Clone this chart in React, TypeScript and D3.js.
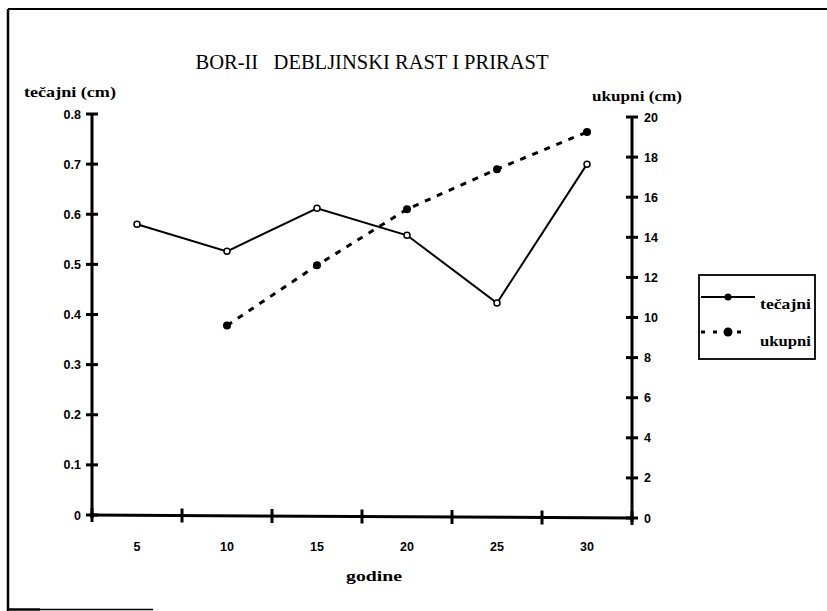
import React from "react";
import * as d3 from "d3";

const years = ["5", "10", "15", "20", "25", "30"];
const tecajni = [0.58, 0.526, 0.612, 0.558, 0.423, 0.70];
const ukupniYears = ["10", "15", "20", "25", "30"];
const ukupni = [9.6, 12.6, 15.4, 17.4, 19.25];
const leftTicks = [0, 0.1, 0.2, 0.3, 0.4, 0.5, 0.6, 0.7, 0.8];
const rightTicks = [0, 2, 4, 6, 8, 10, 12, 14, 16, 18, 20];

const W = 827;
const H = 611;

export default function App() {
  const x = d3.scaleBand<string>().domain(years).range([92, 632]);
  const yL = d3.scaleLinear().domain([0, 0.8]).range([515, 114]);
  const yR = d3.scaleLinear().domain([0, 20]).range([518, 117]);
  const cx = (c: string) => (x(c) as number) + x.bandwidth() / 2;
  const lineL = d3
    .line<number>()
    .x((_, i) => cx(years[i]))
    .y((d) => yL(d));
  const lineR = d3
    .line<number>()
    .x((_, i) => cx(ukupniYears[i]))
    .y((d) => yR(d));
  const xTickPos = [...years.map((c) => x(c) as number), 632];
  const serif = "'Liberation Serif', 'DejaVu Serif', serif";
  const sans = "'Liberation Sans', Arial, sans-serif";
  const xAxisY = (px: number) => 515 + ((px - 92) / 540) * 3;

  return (
    <svg
      width={W}
      height={H}
      style={{ position: "absolute", left: 0, top: 0, background: "#fff" }}
    >
      {/* frame */}
      <line x1={8} y1={9} x2={827} y2={9} stroke="#000" strokeWidth={2} />
      <line x1={8} y1={9} x2={8} y2={611} stroke="#000" strokeWidth={2.5} />
      <line x1={8} y1={609.5} x2={40} y2={609.5} stroke="#000" strokeWidth={2.5} />
      <line x1={40} y1={609.5} x2={153} y2={609.5} stroke="#000" strokeWidth={1.5} />

      {/* title */}
      <text
        x={372}
        y={69}
        textAnchor="middle"
        fontFamily={serif}
        fontSize={20}
        textLength={353}
        lengthAdjust="spacingAndGlyphs"
        style={{ whiteSpace: "pre" }}
      >
        {"BOR-II   DEBLJINSKI RAST I PRIRAST"}
      </text>

      {/* axis titles */}
      <text
        x={24}
        y={97}
        fontFamily={serif}
        fontWeight="bold"
        fontSize={14}
        textLength={92}
        lengthAdjust="spacingAndGlyphs"
      >
        tečajni (cm)
      </text>
      <text
        x={592}
        y={101}
        fontFamily={serif}
        fontWeight="bold"
        fontSize={14}
        textLength={90}
        lengthAdjust="spacingAndGlyphs"
      >
        ukupni (cm)
      </text>
      <text
        x={346}
        y={581}
        fontFamily={serif}
        fontWeight="bold"
        fontSize={14}
        textLength={56}
        lengthAdjust="spacingAndGlyphs"
      >
        godine
      </text>

      {/* left axis */}
      <line x1={92} y1={yL(0.8)} x2={92} y2={yL(0) + 3} stroke="#000" strokeWidth={3} />
      {leftTicks.map((t) => (
        <g key={"l" + t}>
          <line x1={86} x2={98} y1={yL(t)} y2={yL(t)} stroke="#000" strokeWidth={3} />
          <text
            x={81}
            y={yL(t) + 4.5}
            textAnchor="end"
            fontFamily={sans}
            fontWeight="bold"
            fontSize={12.5}
          >
            {t === 0 ? "0" : t.toFixed(1)}
          </text>
        </g>
      ))}

      {/* right axis */}
      <line x1={632} y1={yR(20)} x2={632} y2={yR(0) + 4} stroke="#000" strokeWidth={3} />
      {rightTicks.map((t) => (
        <g key={"r" + t}>
          <line x1={626} x2={638} y1={yR(t)} y2={yR(t)} stroke="#000" strokeWidth={3} />
          <text
            x={644}
            y={yR(t) + 4.5}
            textAnchor="start"
            fontFamily={sans}
            fontWeight="bold"
            fontSize={12.5}
          >
            {t}
          </text>
        </g>
      ))}

      {/* x axis */}
      <line x1={90} y1={xAxisY(90)} x2={632} y2={xAxisY(632)} stroke="#000" strokeWidth={3} />
      {xTickPos.map((p, i) => (
        <line
          key={"xt" + i}
          x1={p}
          x2={p}
          y1={xAxisY(p) - 7}
          y2={xAxisY(p) + 7}
          stroke="#000"
          strokeWidth={3}
        />
      ))}
      {years.map((c) => (
        <text
          key={"xl" + c}
          x={cx(c)}
          y={551}
          textAnchor="middle"
          fontFamily={sans}
          fontWeight="bold"
          fontSize={12.5}
        >
          {c}
        </text>
      ))}

      {/* series ukupni (dashed, filled dots) */}
      <path
        d={lineR(ukupni) || ""}
        fill="none"
        stroke="#000"
        strokeWidth={3}
        strokeDasharray="6 7"
      />
      {ukupni.map((v, i) => (
        <circle key={"u" + i} cx={cx(ukupniYears[i])} cy={yR(v)} r={4} fill="#000" />
      ))}

      {/* series tecajni (solid, open circles) */}
      <path d={lineL(tecajni) || ""} fill="none" stroke="#000" strokeWidth={2} />
      {tecajni.map((v, i) => (
        <circle
          key={"t" + i}
          cx={cx(years[i])}
          cy={yL(v)}
          r={3}
          fill="#fff"
          stroke="#000"
          strokeWidth={1.5}
        />
      ))}

      {/* legend */}
      <rect x={699} y={275} width={116} height={84} fill="#fff" stroke="#000" strokeWidth={1.8} />
      <line x1={701} x2={755} y1={297} y2={297} stroke="#000" strokeWidth={2} />
      <circle cx={728} cy={297} r={3.5} fill="#000" />
      <text
        x={760}
        y={309}
        fontFamily={serif}
        fontWeight="bold"
        fontSize={14}
        textLength={51}
        lengthAdjust="spacingAndGlyphs"
      >
        tečajni
      </text>
      <line
        x1={701}
        x2={746}
        y1={332}
        y2={332}
        stroke="#000"
        strokeWidth={3}
        strokeDasharray="4 8"
      />
      <circle cx={728} cy={332} r={4.5} fill="#000" />
      <text
        x={760}
        y={346}
        fontFamily={serif}
        fontWeight="bold"
        fontSize={14}
        textLength={51}
        lengthAdjust="spacingAndGlyphs"
      >
        ukupni
      </text>
    </svg>
  );
}
